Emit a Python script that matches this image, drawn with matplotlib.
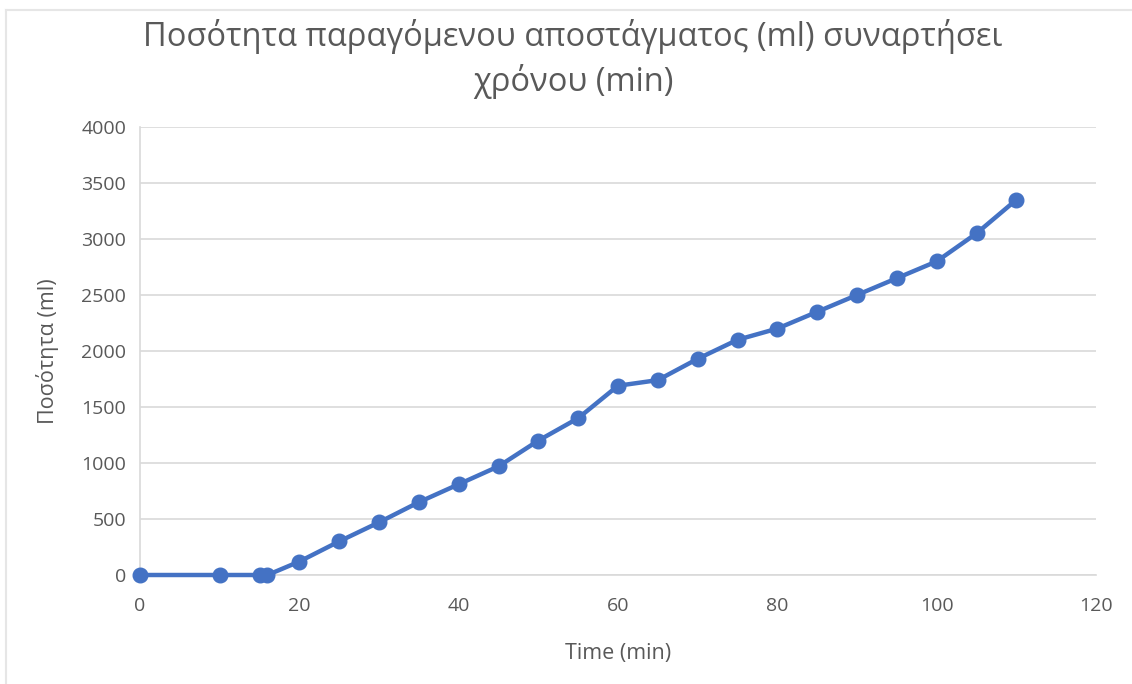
import matplotlib
matplotlib.use("Agg")
import matplotlib.pyplot as plt
from matplotlib.lines import Line2D

# Distillate volume over time
time_min = [0, 10, 15, 16, 20, 25, 30, 35, 40, 45, 50, 55, 60, 65, 70, 75,
            80, 85, 90, 95, 100, 105, 110]
volume_ml = [0, 0, 0, 0, 120, 300, 470, 650, 810, 970, 1200, 1400, 1690, 1740,
             1930, 2100, 2200, 2350, 2500, 2650, 2800, 3050, 3350]

x_ticks = [0, 20, 40, 60, 80, 100, 120]
y_ticks = [0, 500, 1000, 1500, 2000, 2500, 3000, 3500, 4000]

title_text = "Ποσότητα παραγόμενου αποστάγματος (ml) συναρτήσει\nχρόνου (min)"
x_label = "Time (min)"
y_label = "Ποσότητα (ml)"

plt.rcParams['font.family'] = ['Open Sans', 'DejaVu Sans']

W, H = 1132, 684
fig = plt.figure(figsize=(W / 100, H / 100), dpi=100)
ax = fig.add_axes([140 / W, 109 / H, 956 / W, 448 / H])

line_color = "#4472C4"
grid_color = "#D9D9D9"
text_color = "#595959"

ax.plot(time_min, volume_ml, color=line_color, linewidth=3.2,
        marker="o", markersize=10.5, zorder=3, clip_on=False)

ax.set_xlim(0, 120)
ax.set_ylim(0, 4000)
ax.set_xticks(x_ticks)
ax.set_yticks(y_ticks)
ax.grid(axis="y", color=grid_color, linewidth=1.2)
ax.set_axisbelow(True)

for side in ["top", "right"]:
    ax.spines[side].set_visible(False)
for side in ["left", "bottom"]:
    ax.spines[side].set_color(grid_color)
    ax.spines[side].set_linewidth(1.2)

ax.tick_params(axis="both", length=0, labelsize=14, labelcolor=text_color)
ax.tick_params(axis="x", pad=16)
ax.tick_params(axis="y", pad=10)

ax.set_xlabel(x_label, fontsize=15.5, color=text_color, labelpad=20)
ax.set_ylabel(y_label, fontsize=15.5, color=text_color, labelpad=16)

fig.text(573 / W, 1 - 59 / H, title_text, ha="center", va="center",
         fontsize=23.5, color=text_color, linespacing=1.35)

# chart area frame (top and left edges)
fig.add_artist(Line2D([6 / W, 1.0], [1 - 10 / H, 1 - 10 / H],
                      transform=fig.transFigure, color="#E6E6E6", linewidth=1.5))
fig.add_artist(Line2D([6 / W, 6 / W], [0, 1 - 10 / H],
                      transform=fig.transFigure, color="#E6E6E6", linewidth=1.5))

fig.savefig("out.png", dpi=100, facecolor="white")
